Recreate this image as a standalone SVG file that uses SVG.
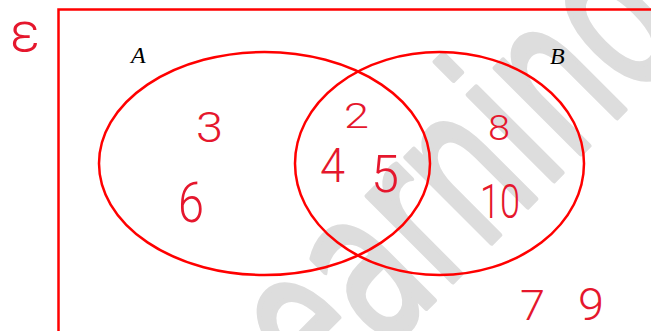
<svg xmlns="http://www.w3.org/2000/svg" width="651" height="331" viewBox="0 0 651 331">
  <style>
    .wm { font-family: "DejaVu Sans", sans-serif; font-size: 220px; fill: #dddddd; stroke: #dddddd; stroke-width: 6; stroke-linejoin: round; stroke-linecap: round; }
    .set { fill: none; stroke: #ff0000; stroke-width: 2.5; }
    .num { font-family: Roboto, "Liberation Sans", Arial, sans-serif; font-weight: 300; fill: #e5172d; }
    .lbl { font-family: "Liberation Serif", "Times New Roman", serif; font-style: italic; font-size: 24px; fill: #000; }
  </style>
  <rect width="651" height="331" fill="#fff"/>
  <g id="watermark">
    <text class="wm" transform="translate(323,411) rotate(-45) scale(0.63,1)" x="0" y="0">earning</text>
  </g>
  <g id="universe">
    <rect class="set" x="58.5" y="9.5" width="700" height="400"/>
    <text class="num" x="10" y="51" font-size="56" textLength="30" lengthAdjust="spacingAndGlyphs">ε</text>
  </g>
  <g id="setA">
    <ellipse class="set" cx="264.5" cy="163.5" rx="165.5" ry="111.5"/>
    <text class="lbl" x="131" y="63">A</text>
  </g>
  <g id="setB">
    <ellipse class="set" cx="439.5" cy="163.5" rx="144.5" ry="111.5"/>
    <text class="lbl" x="550" y="64">B</text>
  </g>
  <g id="elements">
    <text class="num" x="196" y="142" font-size="42" textLength="27" lengthAdjust="spacingAndGlyphs">3</text>
    <text class="num" x="178" y="222" font-size="56" textLength="26" lengthAdjust="spacingAndGlyphs">6</text>
    <text class="num" x="344" y="128" font-size="35" textLength="25" lengthAdjust="spacingAndGlyphs">2</text>
    <text class="num" x="320" y="182" font-size="49" textLength="25" lengthAdjust="spacingAndGlyphs">4</text>
    <text class="num" x="371" y="192" font-size="51" textLength="28" lengthAdjust="spacingAndGlyphs">5</text>
    <text class="num" x="488" y="140" font-size="35" textLength="22" lengthAdjust="spacingAndGlyphs">8</text>
    <text class="num" x="480" y="218" font-size="49" textLength="40" lengthAdjust="spacingAndGlyphs">10</text>
    <text class="num" x="520" y="320" font-size="42" textLength="25" lengthAdjust="spacingAndGlyphs">7</text>
    <text class="num" x="578" y="320" font-size="45" textLength="26" lengthAdjust="spacingAndGlyphs">9</text>
  </g>
</svg>
